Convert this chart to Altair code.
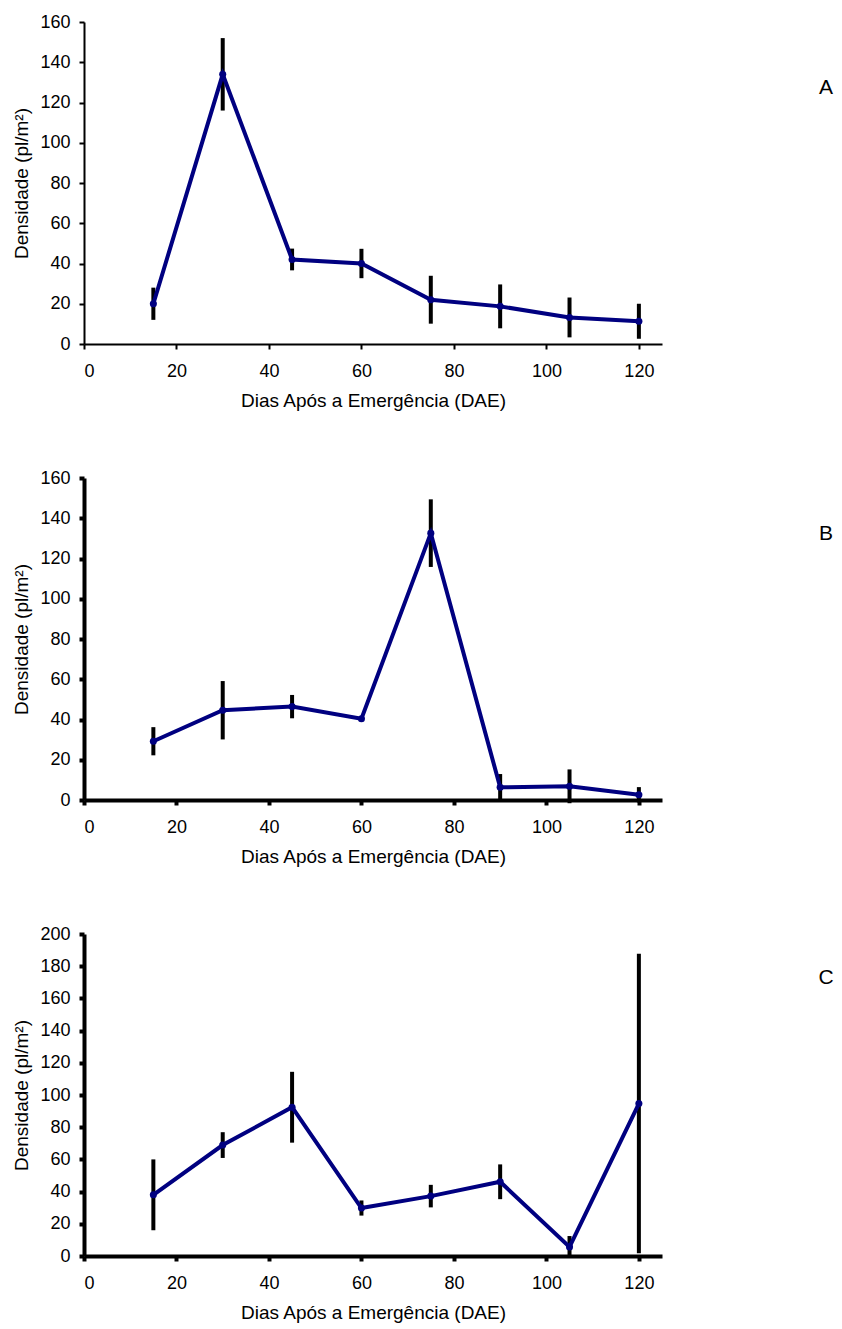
import altair as alt
import pandas as pd

days = [15, 30, 45, 60, 75, 90, 105, 120]

a_mean = [20, 134, 42, 40, 22, 18.7, 13.2, 11.3]
a_err = [8, 18, 5.4, 7.3, 11.9, 10.9, 9.9, 8.7]

b_mean = [29.2, 44.6, 46.4, 40.4, 132.6, 6.3, 6.8, 2.6]
b_err = [7, 14.5, 5.8, 1.2, 16.8, 6.6, 8.4, 3.8]

c_mean = [38, 68.9, 92.4, 29.8, 37.2, 46.1, 5.6, 94.7]
c_err = [22, 8, 22, 4.7, 7, 10.8, 6.8, 93]

panel_labels = ["A", "B", "C"]
x_ticks = [0, 20, 40, 60, 80, 100, 120]
x_title = "Dias Após a Emergência (DAE)"
y_title = "Densidade (pl/m²)"

NAVY = "#000080"
FONT = "Liberation Sans"
W, H = 578, 322


def panel(mean, err, label, ymax, lw, label_y):
    df = pd.DataFrame({
        "dae": days,
        "dens": mean,
        "lo": [m - e for m, e in zip(mean, err)],
        "hi": [m + e for m, e in zip(mean, err)],
    })
    xax = alt.Axis(values=x_ticks, title=x_title, domainWidth=lw, tickWidth=lw,
                   tickSize=5, labelPadding=13, titlePadding=11,
                   labelOverlap=False)
    yax = alt.Axis(values=list(range(0, ymax + 1, 20)), title=y_title,
                   domainWidth=lw, tickWidth=lw, tickSize=5, labelPadding=9,
                   titlePadding=8, labelOverlap=False)
    xs = alt.Scale(domain=[0, 125], nice=False, zero=False)
    ys = alt.Scale(domain=[0, ymax], nice=False)
    base = alt.Chart(df)
    bars = base.mark_rule(color="black", strokeWidth=4, strokeCap="butt").encode(
        x=alt.X("dae:Q", scale=xs, axis=xax),
        y=alt.Y("lo:Q", scale=ys, axis=yax),
        y2="hi:Q",
    )
    line = base.mark_line(color=NAVY, strokeWidth=4).encode(
        x=alt.X("dae:Q", scale=xs, axis=xax), y=alt.Y("dens:Q", scale=ys, axis=yax)
    )
    pts = base.mark_point(color=NAVY, filled=True, opacity=1, size=50, shape="circle").encode(
        x=alt.X("dae:Q", scale=xs, axis=xax), y=alt.Y("dens:Q", scale=ys, axis=yax)
    )
    txt = alt.Chart(pd.DataFrame({"lab": [label]})).mark_text(
        font=FONT, fontSize=21, color="black", align="center", baseline="middle"
    ).encode(text="lab:N", x=alt.value(742), y=alt.value(label_y))
    return alt.layer(bars, line, pts, txt).properties(width=W, height=H)


pa = panel(a_mean, a_err, panel_labels[0], 160, 2, 66)
pb = panel(b_mean, b_err, panel_labels[1], 160, 4, 56)
pc = panel(c_mean, c_err, panel_labels[2], 200, 4, 44)

chart = alt.vconcat(pa, pb, pc, spacing=134, bounds="flush").properties(
    padding={"left": 12, "top": 13, "right": 4, "bottom": 4}
).configure_view(stroke=None).configure_axis(
    labelFont=FONT, titleFont=FONT, labelFontSize=18, titleFontSize=19,
    titleFontWeight="normal", labelColor="black", titleColor="black",
    grid=False, domainColor="black", tickColor="black"
)

chart.save("out.html", embed_options={"renderer": "svg", "actions": False})
